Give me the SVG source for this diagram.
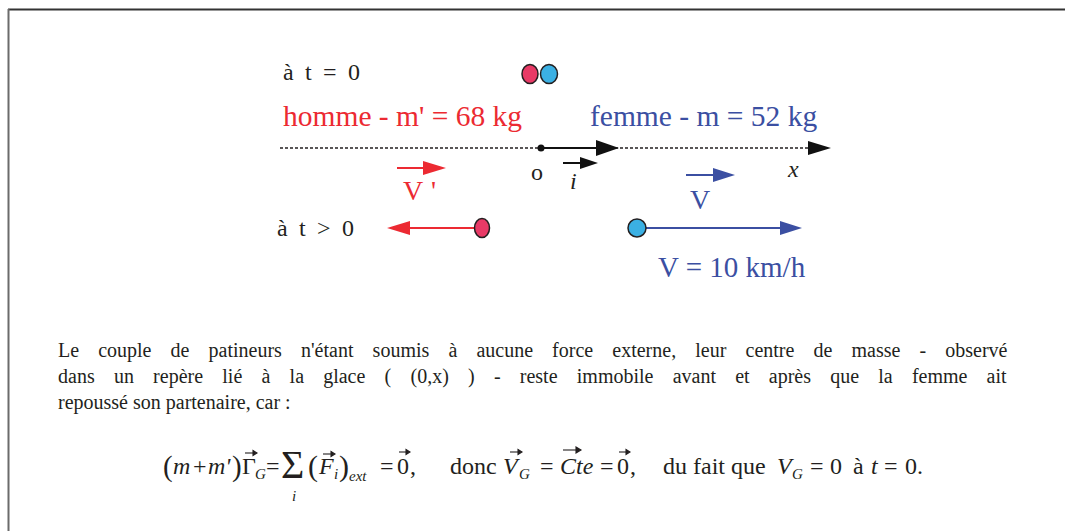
<svg xmlns="http://www.w3.org/2000/svg" width="1065" height="531" viewBox="0 0 1065 531">
<style>
text{font-family:"Liberation Serif","Times New Roman",serif;fill:#231f20}
.lbl{font-size:24px}
.big{font-size:29.5px}
.red{fill:#ec2a32}
.blue{fill:#3b4fa2}
.it{font-style:italic}
.par{font-size:20px}
.f{font-size:24px}
.sub{font-size:15px;font-style:italic}
</style>
<rect x="0" y="0" width="1065" height="531" fill="#ffffff"/>
<g id="frame">
<line x1="8" y1="9.5" x2="1065" y2="9.5" stroke="#333" stroke-width="2"/>
<line x1="8.5" y1="9" x2="8.5" y2="531" stroke="#6b6b6b" stroke-width="2"/>
</g>

<g id="connectors">
<line x1="280" y1="148" x2="812" y2="148" stroke="#231f20" stroke-width="1.4" stroke-dasharray="3,2"/>
<polygon points="808,141 831,148 808,155" fill="#111"/>
<line x1="541" y1="148" x2="598" y2="148" stroke="#111" stroke-width="2"/>
<polygon points="596,140 619,148 596,156" fill="#111"/>
<circle cx="541" cy="148" r="3.5" fill="#111"/>
<line x1="563" y1="163" x2="582" y2="163" stroke="#111" stroke-width="2"/>
<polygon points="580,157 598,163 580,169" fill="#111"/>
<line x1="397" y1="168" x2="425" y2="168" stroke="#ec2a32" stroke-width="2"/>
<polygon points="423,161 446,168 423,175" fill="#ec2a32"/>
<line x1="686" y1="175" x2="715" y2="175" stroke="#3b4fa2" stroke-width="2"/>
<polygon points="713,168 735,175 713,182" fill="#3b4fa2"/>
<line x1="481" y1="228" x2="408" y2="228" stroke="#ec2a32" stroke-width="2"/>
<polygon points="410,221 387,228 410,235" fill="#ec2a32"/>
<line x1="637" y1="228" x2="782" y2="228" stroke="#3b4fa2" stroke-width="2"/>
<polygon points="780,221 802,228 780,235" fill="#3b4fa2"/>
</g>

<g id="skaters-t0">
<ellipse cx="530" cy="74" rx="8" ry="9.5" fill="#e83a66" stroke="#231f20" stroke-width="1.5"/>
<ellipse cx="549" cy="74" rx="8.5" ry="9.5" fill="#3bb0e3" stroke="#231f20" stroke-width="1.5"/>
</g>
<g id="man-t">
<ellipse cx="482" cy="228" rx="7.5" ry="9.5" fill="#e83a66" stroke="#231f20" stroke-width="1.5"/>
</g>
<g id="woman-t">
<circle cx="637" cy="228" r="9" fill="#3bb0e3" stroke="#231f20" stroke-width="1.5"/>
</g>

<g id="labels">
<text class="lbl" y="80"><tspan x="283">à</tspan><tspan x="305">t</tspan><tspan x="323">=</tspan><tspan x="348">0</tspan></text>
<text class="big red" x="283" y="126">homme - m' = 68 kg</text>
<text class="big blue" x="590" y="126">femme - m = 52 kg</text>
<text class="lbl" x="531" y="180">o</text>
<text class="lbl it" x="570" y="189">i</text>
<text class="lbl it" x="788" y="177">x</text>
<text class="lbl red" y="200" style="font-size:28px"><tspan x="403">V</tspan><tspan x="431">'</tspan></text>
<text class="lbl" y="236"><tspan x="277">à</tspan><tspan x="299">t</tspan><tspan x="317">&gt;</tspan><tspan x="342">0</tspan></text>
<text class="lbl blue" x="690" y="209" style="font-size:28px">V</text>
<text class="blue" x="658" y="277" style="font-size:29px">V = 10 km/h</text>
</g>

<g id="paragraph">
<text class="par" y="357"><tspan x="58">Le</tspan><tspan x="98.2">couple</tspan><tspan x="170.6">de</tspan><tspan x="208.6">patineurs</tspan><tspan x="301">n'étant</tspan><tspan x="372.6">soumis</tspan><tspan x="448.4">à</tspan><tspan x="476.4">aucune</tspan><tspan x="552.1">force</tspan><tspan x="612.3">externe,</tspan><tspan x="695.3">leur</tspan><tspan x="745.5">centre</tspan><tspan x="813.5">de</tspan><tspan x="851.5">masse</tspan><tspan x="919.5">-</tspan><tspan x="945.3">observé</tspan></text>
<text class="par" y="383"><tspan x="58">dans</tspan><tspan x="113.9">un</tspan><tspan x="153.1">repère</tspan><tspan x="222.3">lié</tspan><tspan x="261.5">à</tspan><tspan x="289.6">la</tspan><tspan x="323.2">glace</tspan><tspan x="384.6">(</tspan><tspan x="410.5">(0,x)</tspan><tspan x="468">)</tspan><tspan x="493.9">-</tspan><tspan x="519.8">reste</tspan><tspan x="576.8">immobile</tspan><tspan x="672.7">avant</tspan><tspan x="735.2">et</tspan><tspan x="768.8">après</tspan><tspan x="830.2">que</tspan><tspan x="878.3">la</tspan><tspan x="911.9">femme</tspan><tspan x="986.6">ait</tspan></text>
<text class="par" x="58" y="409">repoussé son partenaire, car :</text>
</g>

<g id="formula">
<text class="f" x="163" y="476" style="font-size:29px">(</text>
<text class="f it" x="173" y="474">m</text>
<text class="f" x="193" y="474">+</text>
<text class="f it" x="208" y="474">m'</text>
<text class="f" x="232" y="476" style="font-size:29px">)</text>
<text class="f" x="242" y="474">Γ</text>
<text class="sub" x="255" y="479">G</text>
<text class="f" x="266" y="474">=</text>
<text class="f" x="281" y="478" style="font-size:40px">Σ</text>
<text class="sub" x="292" y="501">i</text>
<text class="f" x="308" y="476" style="font-size:30px">(</text>
<text class="f it" x="319" y="474">F</text>
<text class="sub" x="334" y="479">i</text>
<text class="f" x="339" y="476" style="font-size:30px">)</text>
<text class="sub" x="349" y="481">ext</text>
<text class="f" x="380" y="474">=</text>
<text class="f" x="397" y="474">0</text>
<text class="f" x="410" y="474">,</text>
<text class="f" x="450" y="474">donc</text>
<text class="f it" x="503" y="474">V</text>
<text class="sub" x="519" y="479">G</text>
<text class="f" x="540" y="474">=</text>
<text class="f it" x="560" y="474">Cte</text>
<text class="f" x="600" y="474">=</text>
<text class="f" x="617" y="474">0</text>
<text class="f" x="630" y="474">,</text>
<text class="f" x="663" y="474">du fait que</text>
<text class="f it" x="777" y="474">V</text>
<text class="sub" x="792" y="479">G</text>
<text class="f" x="810" y="474">=</text>
<text class="f" x="830" y="474">0</text>
<text class="f" x="853" y="474">à</text>
<text class="f it" x="871" y="474">t</text>
<text class="f" x="884" y="474">=</text>
<text class="f" x="905" y="474">0.</text>
<g stroke="#231f20" stroke-width="1.1" fill="#231f20">
<line x1="245" y1="453" x2="254" y2="453"/><polygon points="253,450.5 257,453 253,455.5"/>
<line x1="323" y1="454" x2="332" y2="454"/><polygon points="331,451.5 335,454 331,456.5"/>
<line x1="399" y1="452" x2="407" y2="452"/><polygon points="406,449.5 410,452 406,454.5"/>
<line x1="510" y1="452" x2="519" y2="452"/><polygon points="518,449.5 522,452 518,454.5"/>
<line x1="563" y1="450" x2="578" y2="450"/><polygon points="576,447 581,450 576,453"/>
<line x1="619" y1="452" x2="627" y2="452"/><polygon points="626,449.5 630,452 626,454.5"/>
</g>
</g>
</svg>
